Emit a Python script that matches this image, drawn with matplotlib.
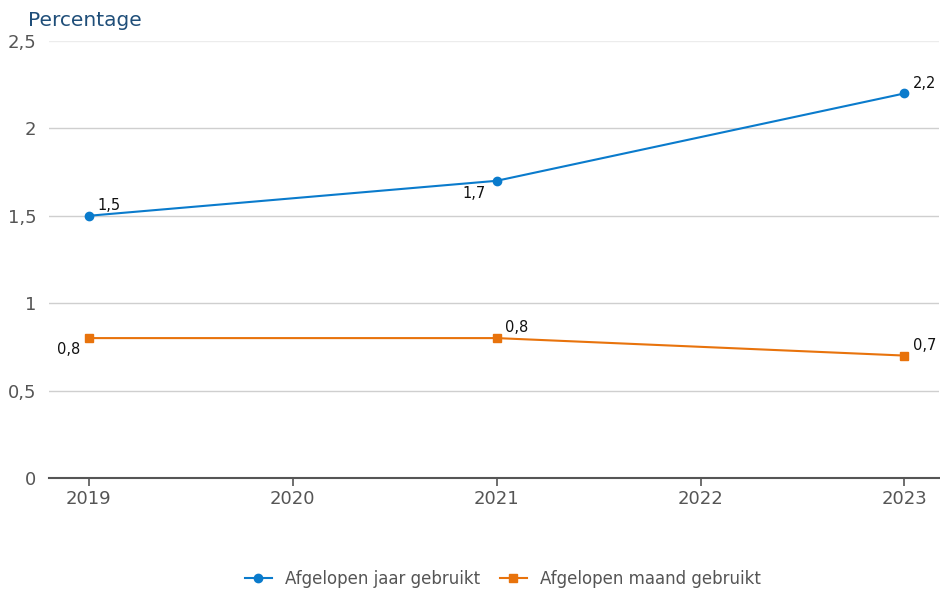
import matplotlib
matplotlib.use("Agg")
import matplotlib.pyplot as plt

years = [2019, 2021, 2023]
jaar = [1.5, 1.7, 2.2]
maand = [0.8, 0.8, 0.7]
series_names = ["Afgelopen jaar gebruikt", "Afgelopen maand gebruikt"]
xticks = [2019, 2020, 2021, 2022, 2023]
yticks = [0, 0.5, 1, 1.5, 2, 2.5]
ytick_labels = ["0", "0,5", "1", "1,5", "2", "2,5"]

blue = "#0a7bcc"
orange = "#e8730c"

fig = plt.figure(figsize=(9.4, 5.9), dpi=100)
ax = fig.add_axes([0.052, 0.19, 0.947, 0.7405])

ax.plot(years, jaar, color=blue, marker="o", markersize=6, linewidth=1.5, label=series_names[0], zorder=3)
ax.plot(years, maand, color=orange, marker="s", markersize=6, linewidth=1.5, label=series_names[1], zorder=3)

def fmt(v):
    return f"{v:.1f}".replace(".", ",")

jaar_off = [(6, 2, "left", "bottom"), (-8, -4, "right", "top"), (6, 2, "left", "bottom")]
maand_off = [(-6, -3, "right", "top"), (6, 2, "left", "bottom"), (6, 2, "left", "bottom")]
for x, y, (dx, dy, ha, va) in zip(years, jaar, jaar_off):
    ax.annotate(fmt(y), (x, y), xytext=(dx, dy), textcoords="offset points", ha=ha, va=va, fontsize=10.5, color="#111111")
for x, y, (dx, dy, ha, va) in zip(years, maand, maand_off):
    ax.annotate(fmt(y), (x, y), xytext=(dx, dy), textcoords="offset points", ha=ha, va=va, fontsize=10.5, color="#111111")

ax.set_xlim(2018.804, 2023.17)
ax.set_ylim(0, 2.5)
ax.set_xticks(xticks)
ax.set_xticklabels([str(t) for t in xticks])
ax.set_yticks(yticks)
ax.set_yticklabels(ytick_labels)

for y in yticks[1:]:
    ax.axhline(y, color="#ececec" if y == 2.5 else "#cfcfcf", linewidth=1, zorder=1)

for s in ["top", "right", "left"]:
    ax.spines[s].set_visible(False)
ax.spines["bottom"].set_color("#555555")
ax.spines["bottom"].set_linewidth(1.5)
ax.tick_params(axis="x", colors="#555555", labelsize=13, length=6, width=1.2, direction="out", pad=3)
ax.tick_params(axis="y", colors="#555555", labelsize=13, length=0, pad=9)

fig.text(0.03, 0.965, "Percentage", fontsize=14.5, color="#1f4e79", ha="left", va="center")

leg = fig.legend(loc="center", bbox_to_anchor=(0.535, 0.019), ncol=2, frameon=False, fontsize=12,
                 handlelength=1.6, columnspacing=1.2, handletextpad=0.8)
for t in leg.get_texts():
    t.set_color("#555555")

fig.savefig("out.png", dpi=100)
